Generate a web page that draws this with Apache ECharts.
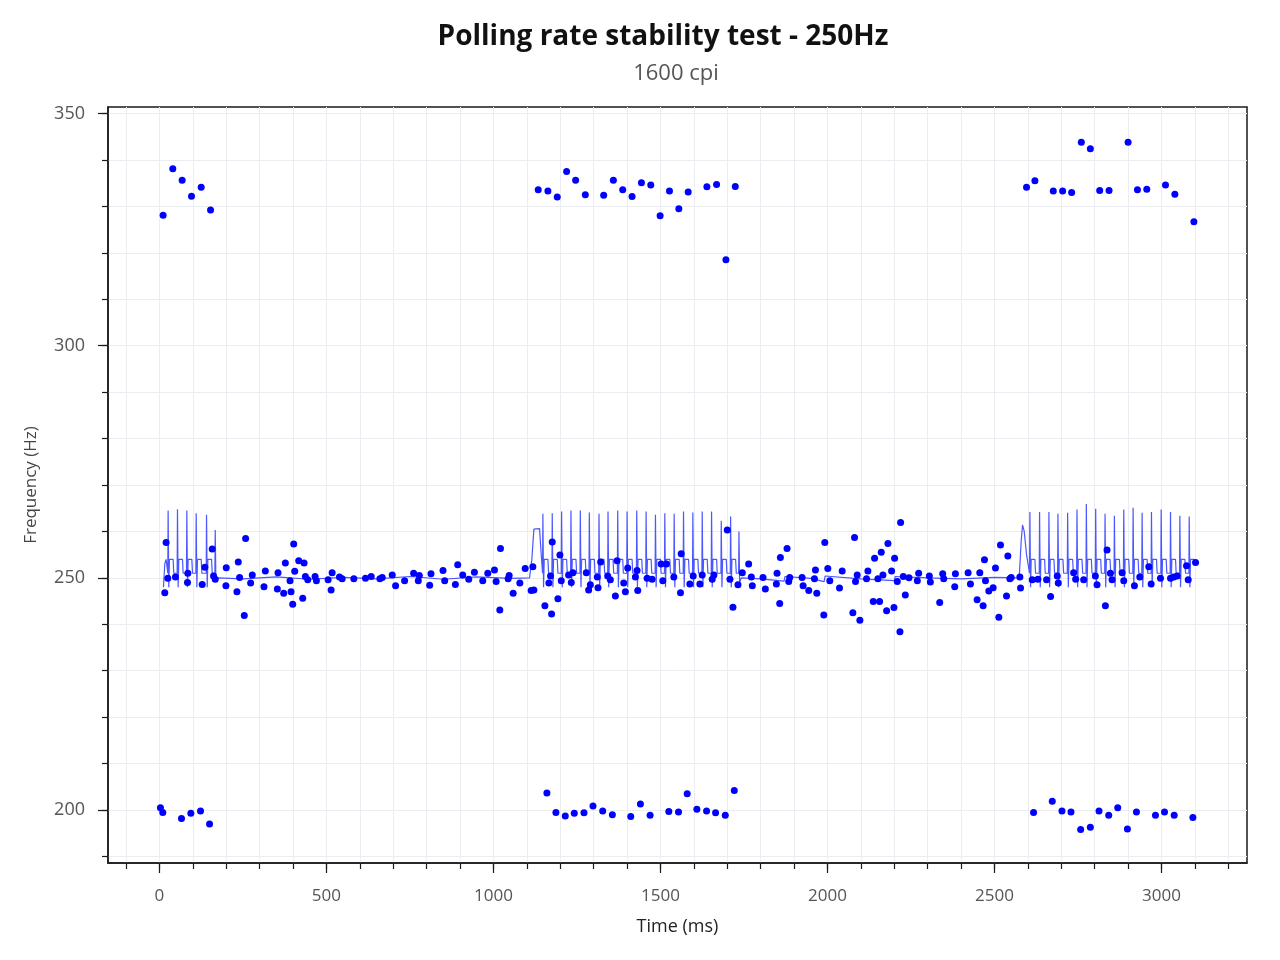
<!DOCTYPE html>
<html>
<head>
<meta charset="utf-8">
<script src="https://cdn.jsdelivr.net/npm/echarts@6/dist/echarts.min.js"></script>
<style>html,body{margin:0;padding:0;background:#fff}#chart{width:1280px;height:960px}</style>
</head>
<body>
<div id="chart"></div>
<script>
const titleText = 'Polling rate stability test - 250Hz';
const subtitleText = '1600 cpi';
const xName = 'Time (ms)';
const yName = 'Frequency (Hz)';
const xMajorTicks = [0, 500, 1000, 1500, 2000, 2500, 3000];
const xMinorTicks = [-100,0,100,200,300,400,500,600,700,800,900,1000,1100,1200,1300,1400,1500,1600,1700,1800,1900,2000,2100,2200,2300,2400,2500,2600,2700,2800,2900,3000,3100,3200];
const yMajorTicks = [200, 250, 300, 350];
const yMinorTicks = [190,200,210,220,230,240,250,260,270,280,290,300,310,320,330,340,350];

const highPoints = [[11,328.1],[40,338.1],[68,335.6],[96,332.2],[125,334.1],[153,329.2],
[1134,333.6],[1163,333.3],[1191,332.0],[1219,337.5],[1246,335.6],[1275,332.5],[1330,332.4],[1359,335.6],[1387,333.6],[1415,332.1],[1443,335.1],[1471,334.6],[1499,328.0],[1527,333.3],[1555,329.5],[1583,333.1],[1639,334.2],[1668,334.7],[1696,318.5],[1724,334.3],
[2596,334.1],[2621,335.5],[2676,333.3],[2704,333.3],[2731,333.0],[2760,343.8],[2787,342.4],[2815,333.4],[2843,333.4],[2900,343.8],[2928,333.6],[2956,333.7],[3012,334.6],[3040,332.6],[3097,326.7]];

const lowPoints = [[3,200.5],[10,199.5],[66,198.2],[94,199.3],[123,199.8],[150,197.0],
[1160,203.7],[1187,199.5],[1215,198.7],[1242,199.3],[1271,199.4],[1298,200.9],[1327,199.8],[1356,199.0],[1411,198.6],[1440,201.3],[1469,198.9],[1525,199.7],[1554,199.6],[1580,203.5],[1609,200.2],[1638,199.8],[1665,199.4],[1694,198.9],[1721,204.2],
[2617,199.5],[2673,201.9],[2702,199.8],[2729,199.6],[2758,195.8],[2787,196.3],[2813,199.8],[2842,198.9],[2869,200.5],[2898,195.9],[2925,199.6],[2982,198.9],[3009,199.6],[3038,198.9],[3094,198.4]];

const midPoints = [[16,246.8],[20,257.6],[25,249.9],[48,250.2],[84,249.0],[85,251.0],[128,248.6],[136,252.3],[158,256.2],[162,250.4],[167,249.7],[199,248.3],[200,252.2],[232,247.0],[236,253.4],[240,250.1],[254,241.9],[258,258.5],[273,248.9],[278,250.6],[313,248.1],[317,251.5],[353,247.6],[355,251.1],[372,246.7],[377,253.2],[391,249.4],[394,247.0],[399,244.3],[402,257.3],[405,251.4],[417,253.7],[429,245.6],[433,253.2],[437,250.3],[444,249.6],[466,250.3],[470,249.4],[505,249.6],[514,247.4],[517,251.1],[539,250.2],
[547,249.8],[582,249.8],[617,249.9],[634,250.3],[660,249.8],[667,250.1],[697,250.6],[707,248.3],[734,249.4],[761,251.0],[775,249.4],[778,250.5],[809,248.4],[813,250.9],[849,251.6],[854,249.4],[886,248.6],[893,252.8],[908,250.6],[926,249.7],[943,251.2],[968,249.4],[983,251.0],[1003,251.7],[1008,249.2],[1019,243.1],[1021,256.3],[1044,249.8],[1047,250.5],[1059,246.7],[1079,248.9],[1095,252.0],[1113,247.3],[1118,252.4],[1121,247.4],
[1154,244.0],[1166,248.9],[1171,250.4],[1174,242.2],[1176,257.7],[1193,245.5],[1199,254.9],[1203,249.4],[1225,250.6],[1233,249.0],[1238,251.1],[1278,251.1],[1285,247.4],[1290,248.5],[1311,250.2],[1313,247.9],[1321,253.4],[1342,250.4],[1350,249.6],[1365,246.1],[1370,253.7],[1390,248.9],[1395,247.0],[1402,252.1],[1425,250.2],[1430,251.6],[1432,247.3],[1460,249.9],[1475,249.7],[1502,253.0],[1507,249.4],[1518,253.0],[1540,250.2],[1560,246.8],[1562,255.2],[1588,248.7],[1598,250.4],[1618,248.7],[1625,250.6],[1655,249.7],[1660,250.6],[1700,260.3],[1708,249.7],[1717,243.7],[1732,248.5],[1745,251.1],[1764,253.0],[1772,250.2],[1775,248.3],
[1807,250.1],[1814,247.6],[1847,248.7],[1849,251.0],[1857,244.5],[1859,254.4],[1879,256.3],[1884,249.2],[1887,250.1],[1924,250.1],[1927,248.3],[1944,247.3],[1961,249.8],[1964,251.7],[1968,246.7],[1989,242.0],[1992,257.6],[2001,252.0],[2007,249.4],[2036,247.8],[2044,251.5],[2076,242.5],[2081,258.7],[2084,249.2],[2089,250.6],[2097,240.9],[2117,249.8],[2121,251.5],[2137,244.9],[2141,254.2],[2151,249.8],[2156,244.9],[2161,255.5],[2166,250.6],[2177,242.9],[2181,257.4],[2192,251.5],[2199,243.6],[2201,254.2],[2209,249.2],[2217,238.4],[2219,261.9],[2227,250.3],[2233,246.3],[2244,250.0],[2269,249.4],[2273,251.0],[2305,250.4],[2308,249.1],[2336,244.7],[2345,250.9],[2348,249.8],[2381,248.1],[2383,250.9],[2421,251.1],[2428,248.7],[2448,245.3],[2456,251.1],
[2466,244.0],[2470,253.9],[2473,249.4],[2483,247.2],[2496,247.9],[2503,252.1],[2513,241.5],[2518,257.1],[2536,246.1],[2540,254.7],[2546,249.8],[2550,250.1],[2576,250.2],[2578,247.8],[2613,249.6],[2630,249.7],[2656,249.6],[2668,246.0],[2688,250.4],[2691,248.9],[2737,251.1],[2743,249.7],[2767,249.6],[2802,250.4],[2807,248.5],[2832,244.0],[2837,256.0],[2847,251.0],[2852,249.6],[2882,251.1],[2887,249.4],[2919,248.3],[2935,250.2],[2962,252.4],[2969,248.7],[2997,249.9],[3027,249.9],[3037,250.2],[3047,250.4],[3075,252.6],[3080,249.6],[3102,253.3]];

const lineBurst1 = [[12,248],[16,253],[20,254],[25,251],[26,264.5],[28,248],[30,254],[41,254],[43,251],[53,251],[54,264.8],[56,248],[58,254],[69,254],[71,251],[81,251],[82,264.5],[84,248],[86,254],[97,254],[99,251],[109,251],[110,263.9],[112,248],[114,254],[125,254],[127,251],[140,251],[141,263.6],[143,248],[145,254],[156,254],[158,251],[166,251],[167,260.3],[169,249.5],[175,250]];
const lineQuiet1 = [[250,249.8],[350,250.2],[450,249.7],[550,250.1],[650,249.8],[750,250.3],[850,249.7],[950,250.2],[1050,249.9],[1108,250]];
const lineBurst2 = [[1115,254],[1121,260.5],[1138,260.6],[1143,255],[1147,251],[1148,263.8],[1150,248],[1152,254],[1163,254],[1165,251],
[1175,251],[1176,263.9],[1178,248],[1180,254],[1191,254],[1193,251],
[1203,251],[1204,264.3],[1206,248],[1208,254],[1219,254],[1221,251],
[1231,251],[1232,264.5],[1234,248],[1236,254],[1247,254],[1249,251],
[1259,251],[1260,264.5],[1262,248],[1264,254],[1275,254],[1277,251],
[1286,251],[1287,264.1],[1289,248],[1291,254],[1302,254],[1304,251],
[1315,251],[1316,263.8],[1318,248],[1320,254],[1331,254],[1333,251],
[1342,251],[1343,264.3],[1345,248],[1347,254],[1358,254],[1360,251],
[1371,251],[1372,264.5],[1374,248],[1376,254],[1387,254],[1389,251],
[1399,251],[1400,264.3],[1402,248],[1404,254],[1415,254],[1417,251],
[1428,251],[1429,264.5],[1431,248],[1433,254],[1444,254],[1446,251],
[1456,251],[1457,264.3],[1459,248],[1461,254],[1472,254],[1474,251],
[1484,251],[1485,263.6],[1487,248],[1489,254],[1500,254],[1502,251],
[1512,251],[1513,263.9],[1515,248],[1517,254],[1528,254],[1530,251],
[1540,251],[1541,263.8],[1543,248],[1545,254],[1556,254],[1558,251],
[1568,251],[1569,264.3],[1571,248],[1573,254],[1584,254],[1586,251],
[1596,251],[1597,264.1],[1599,248],[1601,254],[1612,254],[1614,251],
[1624,251],[1625,264.3],[1627,248],[1629,254],[1640,254],[1642,251],
[1652,251],[1653,264.3],[1655,248],[1657,254],[1668,254],[1670,251],
[1681,251],[1682,262.3],[1684,248],[1686,254],[1697,254],[1699,251],
[1709,251],[1710,263.2],[1712,248],[1714,254],[1725,254],[1727,251],
[1734,251],[1735,260],[1737,249],[1742,250]];
const lineQuiet2 = [[1800,249.8],[1870,249.3],[1873,250.3],[1950,249.9],[1990,249.2],[1993,250.4],[2100,249.8],[2200,249.4],[2203,250.3],[2300,250],[2400,249.8],[2500,250.1],[2574,250]];
const lineBurst3 = [[2580,258],[2584,261.4],[2589,260],[2596,255],[2605,251],[2606,264.2],[2608,248],[2610,254],[2621,254],[2623,251],
[2634,251],[2635,264.2],[2637,248],[2639,254],[2650,254],[2652,251],
[2662,251],[2663,264.2],[2665,248],[2667,254],[2678,254],[2680,251],
[2689,251],[2690,263.8],[2692,248],[2694,254],[2705,254],[2707,251],
[2718,251],[2719,264.0],[2721,248],[2723,254],[2734,254],[2736,251],
[2746,251],[2747,264.7],[2749,248],[2751,254],[2762,254],[2764,251],
[2774,251],[2775,265.9],[2777,248],[2779,254],[2790,254],[2792,251],
[2802,251],[2803,264.9],[2805,248],[2807,254],[2818,254],[2820,251],
[2830,251],[2831,263.8],[2833,248],[2835,254],[2846,254],[2848,251],
[2858,251],[2859,263.4],[2861,248],[2863,254],[2874,254],[2876,251],
[2886,251],[2887,264.7],[2889,248],[2891,254],[2902,254],[2904,251],
[2914,251],[2915,265.1],[2917,248],[2919,254],[2930,254],[2932,251],
[2941,251],[2942,264.0],[2944,248],[2946,254],[2957,254],[2959,251],
[2969,251],[2970,264.2],[2972,248],[2974,254],[2985,254],[2987,251],
[2998,251],[2999,264.7],[3001,248],[3003,254],[3014,254],[3016,251],
[3026,251],[3027,264.2],[3029,248],[3031,254],[3042,254],[3044,251],
[3054,251],[3055,263.4],[3057,248],[3059,254],[3070,254],[3072,251],
[3082,251],[3083,263.2],[3085,248],[3087,254],[3098,254]];

const lineData = [].concat(lineBurst1, lineQuiet1, lineBurst2, lineQuiet2, lineBurst3);
const dotData = [].concat(highPoints, midPoints, lowPoints);

const FONT = '"Open Sans", "Noto Sans", sans-serif';
const gridLineColor = '#ececf3';
const axisBlack = '#1a1a1a';
const X_MIN = -154, X_MAX = 3256, Y_MIN = 188.6, Y_MAX = 351.4;
const plain = v => String(Math.round(v));

const chart = echarts.init(document.getElementById('chart'), null, {renderer: 'canvas'});
chart.setOption({
  animation: false,
  backgroundColor: '#ffffff',
  title: [
    {text: titleText, left: 663, top: 23, textAlign: 'center', padding: 0,
     textStyle: {fontFamily: FONT, fontSize: 28, fontWeight: 'bold', color: '#111'}},
    {text: subtitleText, left: 676, top: 63, textAlign: 'center', padding: 0,
     textStyle: {fontFamily: FONT, fontSize: 22, fontWeight: 'normal', color: '#555'}}
  ],
  grid: {left: 108, right: 33, top: 107, bottom: 97, show: true, borderColor: axisBlack, borderWidth: 1.5, backgroundColor: 'transparent'},
  xAxis: [
    {type: 'value', min: X_MIN, max: X_MAX, position: 'bottom',
     name: xName, nameLocation: 'middle', nameGap: 55,
     nameTextStyle: {fontFamily: FONT, fontSize: 18, color: '#222'},
     axisLine: {show: true, onZero: false, lineStyle: {color: axisBlack, width: 1.5}},
     axisTick: {show: true, length: 6, customValues: xMinorTicks, lineStyle: {color: axisBlack, width: 1.2}},
     axisLabel: {show: false},
     splitLine: {show: true, lineStyle: {color: gridLineColor, width: 1}}},
    {type: 'value', min: X_MIN, max: X_MAX, position: 'bottom', offset: 0,
     axisLine: {show: false, onZero: false},
     axisTick: {show: true, length: 10, customValues: xMajorTicks, lineStyle: {color: axisBlack, width: 1.2}},
     axisLabel: {show: true, customValues: xMajorTicks, formatter: plain, margin: 25, fontFamily: FONT, fontSize: 17, color: '#555'},
     splitLine: {show: false}}
  ],
  yAxis: [
    {type: 'value', min: Y_MIN, max: Y_MAX, position: 'left',
     name: yName, nameLocation: 'middle', nameGap: 68, nameRotate: 90,
     nameTextStyle: {fontFamily: FONT, fontSize: 17, color: '#444'},
     axisLine: {show: true, onZero: false, lineStyle: {color: axisBlack, width: 1.5}},
     axisTick: {show: true, length: 6, customValues: yMinorTicks, lineStyle: {color: axisBlack, width: 1.2}},
     axisLabel: {show: false},
     splitLine: {show: true, lineStyle: {color: gridLineColor, width: 1}}},
    {type: 'value', min: Y_MIN, max: Y_MAX, position: 'left', offset: 0,
     axisLine: {show: false, onZero: false},
     axisTick: {show: true, length: 10, customValues: yMajorTicks, lineStyle: {color: axisBlack, width: 1.2}},
     axisLabel: {show: true, customValues: yMajorTicks, formatter: plain, margin: 23, fontFamily: FONT, fontSize: 18, color: '#555'},
     splitLine: {show: false}}
  ],
  series: [
    {type: 'line', xAxisIndex: 0, yAxisIndex: 0, data: lineData, showSymbol: false, symbol: 'none',
     lineStyle: {color: 'rgba(30,45,255,0.8)', width: 1.2}, z: 2, silent: true},
    {type: 'scatter', xAxisIndex: 0, yAxisIndex: 0, data: dotData, symbol: 'circle', symbolSize: 7,
     itemStyle: {color: '#0000ff', opacity: 1}, z: 3, silent: true}
  ]
});
</script>
</body>
</html>
